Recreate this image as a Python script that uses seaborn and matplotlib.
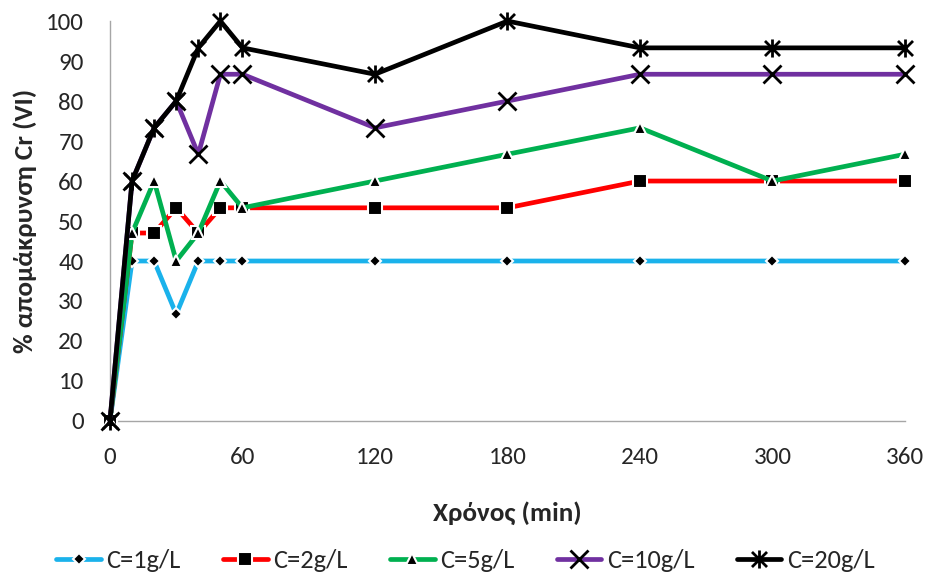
import matplotlib
matplotlib.use("Agg")
import matplotlib.pyplot as plt
import seaborn as sns
from matplotlib.path import Path

# --- data ---
time_min = [0, 10, 20, 30, 40, 50, 60, 120, 180, 240, 300, 360]
c1 = [0, 40, 40, 26.7, 40, 40, 40, 40, 40, 40, 40, 40]
c2 = [0, 47, 47, 53.3, 47, 53.3, 53.3, 53.3, 53.3, 60, 60, 60]
c5 = [0, 47, 60, 40, 47, 60, 53.3, 60, 66.7, 73.3, 60, 66.7]
c10 = [0, 60, 73.3, 80, 66.7, 86.7, 86.7, 73.3, 80, 86.7, 86.7, 86.7]
c20 = [0, 60, 73.3, 80, 93.3, 100, 93.3, 86.7, 100, 93.3, 93.3, 93.3]
labels = ["C=1g/L", "C=2g/L", "C=5g/L", "C=10g/L", "C=20g/L"]

sns.set_style("white")
plt.rcParams["font.family"] = ["Carlito", "Liberation Sans Narrow", "DejaVu Sans"]

# asterisk-like marker: X with a vertical bar
star = Path([(-1, -1), (1, 1), (-1, 1), (1, -1), (0, -1.2), (0, 1.2)],
            [Path.MOVETO, Path.LINETO, Path.MOVETO, Path.LINETO, Path.MOVETO, Path.LINETO])

series = [
    (c1, "#1ab2eb", "D", 6.5, True),
    (c2, "#ff0000", "s", 10, True),
    (c5, "#00b050", "^", 9, True),
    (c10, "#7030a0", "x", 13, False),
    (c20, "#000000", star, 13, False),
]

fig = plt.figure(figsize=(9.28, 5.74), dpi=100)
ax = fig.add_axes([0.1185, 0.2666, 0.8567, 0.6967])

for (vals, col, mk, ms, filled), lab in zip(series, labels):
    if filled:
        kw = dict(markerfacecolor="black", markeredgecolor="white", markeredgewidth=1.5)
    else:
        kw = dict(markerfacecolor="none", markeredgecolor="black", markeredgewidth=2)
    sns.lineplot(x=time_min, y=vals, ax=ax, color=col, linewidth=3.4, marker=mk,
                 markersize=ms, label=lab, clip_on=False, zorder=3, **kw)

ax.set_xlim(0, 360)
ax.set_ylim(0, 100)
ax.set_xticks(range(0, 361, 60))
ax.set_yticks(range(0, 101, 10))
ax.tick_params(axis="both", labelsize=18, length=7, color="#a6a6a6", width=1, direction="out")
ax.tick_params(axis="x", pad=12)
ax.tick_params(axis="y", pad=12)
for s in ["top", "right"]:
    ax.spines[s].set_visible(False)
for s in ["left", "bottom"]:
    ax.spines[s].set_color("#a6a6a6")
    ax.spines[s].set_linewidth(1)

ax.set_xlabel("Χρόνος (min)", fontsize=19.5, fontweight="bold", labelpad=24)
ax.set_ylabel("% απομάκρυνση Cr (VI)", fontsize=19.5, fontweight="bold", labelpad=6)

ax.legend(loc="center", bbox_to_anchor=(0.447, -0.35), ncol=5, frameon=False,
          fontsize=19, handlelength=1.7, columnspacing=1.6, handletextpad=0.2)

fig.savefig("out.png", dpi=100)
